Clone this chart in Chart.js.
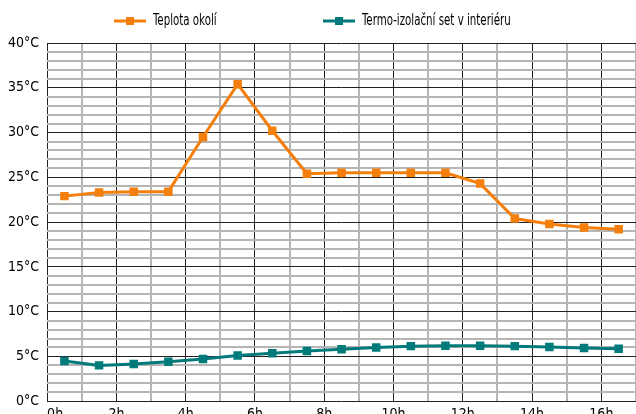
<!DOCTYPE html>
<html>
<head>
<meta charset="utf-8">
<script src="https://cdn.jsdelivr.net/npm/chart.js@4/dist/chart.umd.min.js"></script>
<style>
  html, body { margin: 0; padding: 0; background: #fff; overflow: hidden; }
  #wrap { width: 642px; height: 428px; }
</style>
</head>
<body>
<div id="wrap"><canvas id="chart"></canvas></div>
<script>
// hours (half-hour points)
const hours = [0.5, 1.5, 2.5, 3.5, 4.5, 5.5, 6.5, 7.5, 8.5, 9.5, 10.5, 11.5, 12.5, 13.5, 14.5, 15.5, 16.5];
const outside = [22.9, 23.3, 23.4, 23.4, 29.5, 35.4, 30.2, 25.4, 25.5, 25.5, 25.5, 25.5, 24.3, 20.4, 19.8, 19.4, 19.2];
const inside = [4.5, 4.0, 4.15, 4.4, 4.7, 5.1, 5.35, 5.6, 5.8, 6.0, 6.15, 6.2, 6.2, 6.15, 6.05, 5.95, 5.85];
const seriesLabels = ['Teplota okolí', 'Termo-izolační set v interiéru'];
const colors = ['#f47f0c', '#007a7a'];

const FONT = "'DejaVu Sans Condensed', 'Liberation Sans Narrow', sans-serif";

// legend drawn by hand: line with square marker, then the label
const legendX = [114, 323];
const topLegend = {
  id: 'topLegend',
  afterDraw(chart) {
    const ctx = chart.ctx;
    ctx.save();
    ctx.textBaseline = 'middle';
    chart.data.datasets.forEach((ds, i) => {
      const x = legendX[i], y = 21;
      ctx.strokeStyle = colors[i];
      ctx.lineWidth = 3;
      ctx.beginPath(); ctx.moveTo(x, y); ctx.lineTo(x + 32, y); ctx.stroke();
      ctx.fillStyle = colors[i];
      ctx.fillRect(x + 12, y - 4, 8, 8);
      // squeeze text horizontally to mimic a condensed face
      ctx.save();
      ctx.translate(x + 39, y);
      ctx.scale(0.76, 1);
      ctx.font = '15px ' + FONT;
      ctx.fillStyle = '#000';
      ctx.fillText(ds.label, 0, 0);
      ctx.restore();
    });
    ctx.restore();
  }
};

const datasets = [outside, inside].map((vals, i) => ({
  label: seriesLabels[i],
  data: hours.map((h, j) => ({ x: h, y: vals[j] })),
  borderColor: colors[i],
  backgroundColor: colors[i],
  borderWidth: 3,
  pointStyle: 'rect',
  pointRadius: 6,
  pointBorderWidth: 0,
  tension: 0
}));

new Chart(document.getElementById('chart'), {
  type: 'line',
  data: { datasets: datasets },
  plugins: [topLegend],
  options: {
    responsive: true,
    maintainAspectRatio: false,
    animation: false,
    layout: { padding: { left: 0, right: 0, top: 43, bottom: 0 } },
    plugins: {
      tooltip: { enabled: false },
      legend: { display: false }
    },
    scales: {
      x: {
        type: 'linear',
        min: 0,
        max: 17,
        border: { display: false },
        grid: {
          color: (ctx) => ctx.tick && ctx.tick.value % 2 === 0 ? '#222' : '#b5b5b5',
          lineWidth: (ctx) => ctx.tick && ctx.tick.value % 2 === 0 ? 1 : 2,
          drawTicks: false
        },
        ticks: {
          stepSize: 1,
          autoSkip: false,
          maxRotation: 0,
          align: 'inner',
          padding: 5,
          color: '#000',
          font: { family: FONT, size: 14 },
          callback: (v) => v % 2 === 0 && v < 17 ? v + 'h' : ''
        }
      },
      y: {
        min: 0,
        max: 40,
        border: { display: false },
        grid: {
          color: (ctx) => ctx.tick && ctx.tick.value % 5 === 0 ? '#222' : '#b5b5b5',
          lineWidth: (ctx) => ctx.tick && ctx.tick.value % 5 === 0 ? 1 : 2,
          drawTicks: false
        },
        ticks: {
          stepSize: 1,
          autoSkip: false,
          padding: 8,
          color: '#000',
          font: { family: FONT, size: 14 },
          callback: (v) => v % 5 === 0 ? v + '°C' : ''
        }
      }
    }
  }
});
</script>
</body>
</html>
